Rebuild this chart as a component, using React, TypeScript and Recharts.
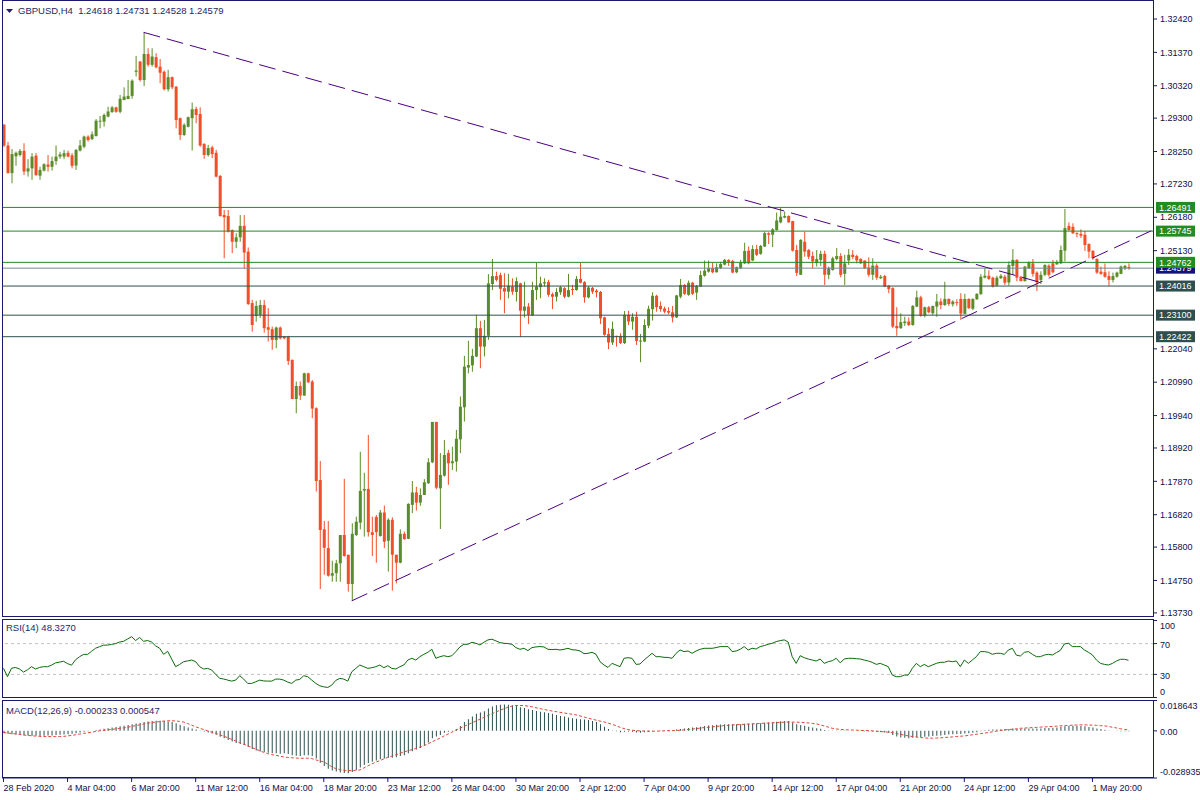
import React from "react"
import { ComposedChart, Bar, Line, XAxis, YAxis, ReferenceLine } from "recharts"

// GBPUSD H4, 28 Feb 2020 12:00 -> 5 May 2020 08:00, one entry per bar
const openP = [
  1.2909, 1.2844, 1.2757, 1.2810, 1.2814, 1.2827, 1.2762, 1.2772, 1.2812, 1.2749,
  1.2765, 1.2784, 1.2777, 1.2795, 1.2809, 1.2809, 1.2821, 1.2813, 1.2781, 1.2828,
  1.2840, 1.2872, 1.2864, 1.2874, 1.2919, 1.2919, 1.2935, 1.2949, 1.2964, 1.2950,
  1.2987, 1.2990, 1.3000, 1.3076, 1.3108, 1.3050, 1.3132, 1.3098, 1.3122, 1.3092,
  1.3076, 1.3021, 1.3059, 1.3029, 1.2930, 1.2877, 1.2903, 1.2930, 1.2959, 1.2943,
  1.2849, 1.2814, 1.2838, 1.2821, 1.2748, 1.2625, 1.2622, 1.2578, 1.2541, 1.2555,
  1.2591, 1.2510, 1.2348, 1.2308, 1.2311, 1.2342, 1.2272, 1.2266, 1.2232, 1.2271,
  1.2242, 1.2242, 1.2169, 1.2046, 1.2087, 1.2057, 1.2127, 1.2101, 1.2017, 1.1791,
  1.1636, 1.1577, 1.1490, 1.1498, 1.1529, 1.1618, 1.1556, 1.1464, 1.1618, 1.1657,
  1.1758, 1.1763, 1.1627, 1.1675, 1.1615, 1.1689, 1.1600, 1.1666, 1.1556, 1.1531,
  1.1622, 1.1606, 1.1713, 1.1752, 1.1720, 1.1744, 1.1781, 1.1847, 1.1974, 1.1765,
  1.1805, 1.1876, 1.1844, 1.1849, 1.1919, 1.2020, 1.2145, 1.2152, 1.2180, 1.2269,
  1.2211, 1.2245, 1.2408, 1.2433, 1.2436, 1.2395, 1.2384, 1.2400, 1.2383, 1.2410,
  1.2324, 1.2337, 1.2309, 1.2389, 1.2398, 1.2410, 1.2414, 1.2376, 1.2368, 1.2382,
  1.2395, 1.2368, 1.2392, 1.2389, 1.2424, 1.2414, 1.2366, 1.2396, 1.2387, 1.2383,
  1.2303, 1.2251, 1.2224, 1.2245, 1.2245, 1.2222, 1.2311, 1.2290, 1.2305, 1.2227,
  1.2227, 1.2277, 1.2329, 1.2371, 1.2339, 1.2331, 1.2323, 1.2319, 1.2303, 1.2368,
  1.2405, 1.2374, 1.2412, 1.2381, 1.2400, 1.2434, 1.2447, 1.2458, 1.2445, 1.2458,
  1.2469, 1.2484, 1.2480, 1.2445, 1.2458, 1.2473, 1.2513, 1.2482, 1.2518, 1.2503,
  1.2526, 1.2568, 1.2563, 1.2578, 1.2602, 1.2617, 1.2622, 1.2606, 1.2515, 1.2437,
  1.2541, 1.2515, 1.2496, 1.2475, 1.2484, 1.2503, 1.2437, 1.2452, 1.2487, 1.2496,
  1.2440, 1.2482, 1.2500, 1.2496, 1.2487, 1.2482, 1.2460, 1.2437, 1.2466, 1.2426,
  1.2433, 1.2402, 1.2395, 1.2276, 1.2269, 1.2285, 1.2290, 1.2279, 1.2337, 1.2366,
  1.2309, 1.2335, 1.2316, 1.2337, 1.2353, 1.2342, 1.2361, 1.2344, 1.2351, 1.2361,
  1.2314, 1.2361, 1.2330, 1.2360, 1.2376, 1.2428, 1.2434, 1.2428, 1.2403, 1.2426,
  1.2431, 1.2413, 1.2465, 1.2484, 1.2431, 1.2417, 1.2458, 1.2473, 1.2444, 1.2421,
  1.2437, 1.2466, 1.2473, 1.2470, 1.2473, 1.2513, 1.2591, 1.2588, 1.2568, 1.2566,
  1.2563, 1.2534, 1.2512, 1.2487, 1.2447, 1.2445, 1.2433, 1.2421, 1.2431, 1.2440,
  1.2458, 1.24618,
]

const highP = [
  1.2912, 1.2855, 1.2833, 1.2825, 1.2833, 1.2851, 1.2801, 1.2820, 1.2820, 1.2777,
  1.2788, 1.2814, 1.2809, 1.2844, 1.2824, 1.2830, 1.2828, 1.2820, 1.2833, 1.2861,
  1.2875, 1.2876, 1.2888, 1.2927, 1.2937, 1.2945, 1.2966, 1.2968, 1.2966, 1.3003,
  1.3027, 1.3050, 1.3052, 1.3126, 1.3110, 1.3200, 1.3150, 1.3150, 1.3134, 1.3116,
  1.3080, 1.3082, 1.3061, 1.3031, 1.2932, 1.2914, 1.2935, 1.2979, 1.2966, 1.2964,
  1.2851, 1.2846, 1.2843, 1.2830, 1.2751, 1.2641, 1.2641, 1.2580, 1.2568, 1.2625,
  1.2625, 1.2523, 1.2358, 1.2355, 1.2358, 1.2358, 1.2332, 1.2274, 1.2274, 1.2274,
  1.2245, 1.2245, 1.2171, 1.2101, 1.2101, 1.2129, 1.2129, 1.2106, 1.2020, 1.1851,
  1.1662, 1.1662, 1.1537, 1.1540, 1.1618, 1.1795, 1.1556, 1.1655, 1.1676, 1.1880,
  1.1814, 1.1933, 1.1676, 1.1681, 1.1697, 1.1711, 1.1671, 1.1674, 1.1556, 1.1636,
  1.1629, 1.1718, 1.1788, 1.1770, 1.1765, 1.1794, 1.1860, 1.1974, 1.1974, 1.1876,
  1.1917, 1.1886, 1.1896, 1.1949, 1.2054, 1.2182, 1.2229, 1.2204, 1.2311, 1.2292,
  1.2295, 1.2439, 1.2487, 1.2447, 1.2444, 1.2442, 1.2440, 1.2426, 1.2429, 1.2412,
  1.2415, 1.2348, 1.2415, 1.2475, 1.2431, 1.2426, 1.2421, 1.2381, 1.2395, 1.2402,
  1.2398, 1.2440, 1.2405, 1.2433, 1.2475, 1.2417, 1.2402, 1.2399, 1.2392, 1.2386,
  1.2305, 1.2269, 1.2290, 1.2245, 1.2253, 1.2323, 1.2324, 1.2316, 1.2321, 1.2251,
  1.2297, 1.2340, 1.2382, 1.2374, 1.2353, 1.2337, 1.2335, 1.2339, 1.2374, 1.2424,
  1.2408, 1.2419, 1.2415, 1.2405, 1.2450, 1.2482, 1.2482, 1.2475, 1.2473, 1.2478,
  1.2487, 1.2486, 1.2484, 1.2463, 1.2484, 1.2538, 1.2526, 1.2530, 1.2531, 1.2531,
  1.2573, 1.2571, 1.2584, 1.2633, 1.2648, 1.2636, 1.2624, 1.2607, 1.2531, 1.2549,
  1.2573, 1.2518, 1.2510, 1.2515, 1.2513, 1.2513, 1.2463, 1.2494, 1.2521, 1.2505,
  1.2500, 1.2518, 1.2515, 1.2500, 1.2489, 1.2482, 1.2492, 1.2489, 1.2473, 1.2437,
  1.2437, 1.2405, 1.2398, 1.2335, 1.2316, 1.2305, 1.2303, 1.2342, 1.2387, 1.2371,
  1.2337, 1.2339, 1.2340, 1.2377, 1.2363, 1.2415, 1.2363, 1.2357, 1.2360, 1.2379,
  1.2377, 1.2363, 1.2363, 1.2379, 1.2439, 1.2458, 1.2451, 1.2431, 1.2434, 1.2439,
  1.2437, 1.2479, 1.2518, 1.2486, 1.2433, 1.2465, 1.2479, 1.2487, 1.2448, 1.2448,
  1.2470, 1.2470, 1.2484, 1.2484, 1.2529, 1.2644, 1.2602, 1.2599, 1.2571, 1.2580,
  1.2575, 1.2536, 1.2515, 1.2489, 1.2463, 1.2473, 1.2448, 1.2444, 1.2447, 1.2466,
  1.2468, 1.24731,
]

const lowP = [
  1.2839, 1.2756, 1.2725, 1.2780, 1.2809, 1.2751, 1.2746, 1.2736, 1.2748, 1.2736,
  1.2762, 1.2762, 1.2765, 1.2783, 1.2802, 1.2801, 1.2807, 1.2772, 1.2767, 1.2825,
  1.2835, 1.2856, 1.2861, 1.2872, 1.2898, 1.2903, 1.2933, 1.2947, 1.2947, 1.2945,
  1.2987, 1.2990, 1.2991, 1.3061, 1.3045, 1.3031, 1.3092, 1.3092, 1.3087, 1.3040,
  1.3017, 1.3014, 1.3021, 1.2898, 1.2861, 1.2874, 1.2901, 1.2828, 1.2914, 1.2840,
  1.2802, 1.2809, 1.2804, 1.2744, 1.2620, 1.2489, 1.2570, 1.2505, 1.2521, 1.2541,
  1.2455, 1.2342, 1.2258, 1.2289, 1.2301, 1.2255, 1.2227, 1.2201, 1.2206, 1.2234,
  1.2234, 1.2153, 1.2046, 1.2001, 1.2043, 1.2056, 1.2096, 1.1986, 1.1755, 1.1448,
  1.1493, 1.1487, 1.1471, 1.1471, 1.1471, 1.1550, 1.1440, 1.1411, 1.1615, 1.1636,
  1.1613, 1.1613, 1.1552, 1.1531, 1.1613, 1.1577, 1.1503, 1.1443, 1.1466, 1.1529,
  1.1603, 1.1605, 1.1687, 1.1695, 1.1710, 1.1744, 1.1779, 1.1844, 1.1762, 1.1637,
  1.1802, 1.1776, 1.1823, 1.1818, 1.1876, 1.1975, 1.2127, 1.2132, 1.2178, 1.2143,
  1.2180, 1.2232, 1.2389, 1.2416, 1.2358, 1.2316, 1.2363, 1.2374, 1.2353, 1.2241,
  1.2303, 1.2282, 1.2308, 1.2358, 1.2363, 1.2400, 1.2368, 1.2329, 1.2353, 1.2374,
  1.2363, 1.2366, 1.2374, 1.2387, 1.2410, 1.2349, 1.2363, 1.2377, 1.2366, 1.2282,
  1.2245, 1.2203, 1.2216, 1.2211, 1.2219, 1.2219, 1.2279, 1.2264, 1.2216, 1.2162,
  1.2225, 1.2269, 1.2293, 1.2321, 1.2321, 1.2316, 1.2313, 1.2287, 1.2301, 1.2363,
  1.2374, 1.2371, 1.2374, 1.2358, 1.2400, 1.2431, 1.2444, 1.2442, 1.2444, 1.2455,
  1.2467, 1.2465, 1.2442, 1.2442, 1.2455, 1.2471, 1.2470, 1.2480, 1.2496, 1.2500,
  1.2524, 1.2534, 1.2524, 1.2576, 1.2599, 1.2615, 1.2601, 1.2510, 1.2433, 1.2437,
  1.2494, 1.2486, 1.2458, 1.2463, 1.2465, 1.2405, 1.2423, 1.2450, 1.2482, 1.2429,
  1.2405, 1.2468, 1.2486, 1.2473, 1.2471, 1.2455, 1.2431, 1.2421, 1.2421, 1.2424,
  1.2398, 1.2379, 1.2269, 1.2245, 1.2267, 1.2276, 1.2276, 1.2277, 1.2335, 1.2305,
  1.2303, 1.2316, 1.2311, 1.2305, 1.2329, 1.2339, 1.2339, 1.2337, 1.2339, 1.2295,
  1.2313, 1.2330, 1.2326, 1.2358, 1.2374, 1.2426, 1.2421, 1.2397, 1.2400, 1.2424,
  1.2405, 1.2403, 1.2437, 1.2417, 1.2417, 1.2416, 1.2455, 1.2431, 1.2386, 1.2408,
  1.2433, 1.2431, 1.2442, 1.2468, 1.2471, 1.2479, 1.2575, 1.2565, 1.2555, 1.2553,
  1.2512, 1.2489, 1.2484, 1.2440, 1.2437, 1.2428, 1.2402, 1.2413, 1.2428, 1.2439,
  1.2452, 1.24528,
]

const closeP = [
  1.2844, 1.2757, 1.2817, 1.2821, 1.2827, 1.2762, 1.2772, 1.2809, 1.2751, 1.2767,
  1.2785, 1.2777, 1.2795, 1.2809, 1.2816, 1.2820, 1.2809, 1.2780, 1.2830, 1.2844,
  1.2872, 1.2861, 1.2879, 1.2922, 1.2922, 1.2940, 1.2951, 1.2964, 1.2950, 1.2991,
  1.2998, 1.3000, 1.3048, 1.3080, 1.3050, 1.3132, 1.3098, 1.3124, 1.3090, 1.3073,
  1.3021, 1.3059, 1.3027, 1.2924, 1.2877, 1.2909, 1.2933, 1.2958, 1.2940, 1.2844,
  1.2814, 1.2836, 1.2817, 1.2746, 1.2622, 1.2618, 1.2573, 1.2541, 1.2555, 1.2591,
  1.2507, 1.2345, 1.2279, 1.2339, 1.2342, 1.2269, 1.2264, 1.2232, 1.2271, 1.2237,
  1.2237, 1.2166, 1.2046, 1.2087, 1.2057, 1.2127, 1.2099, 1.2016, 1.1788, 1.1634,
  1.1578, 1.1490, 1.1498, 1.1529, 1.1618, 1.1552, 1.1464, 1.1622, 1.1660, 1.1757,
  1.1763, 1.1627, 1.1618, 1.1627, 1.1689, 1.1597, 1.1666, 1.1556, 1.1531, 1.1622,
  1.1605, 1.1716, 1.1752, 1.1720, 1.1744, 1.1784, 1.1847, 1.1974, 1.1767, 1.1807,
  1.1870, 1.1844, 1.1850, 1.1921, 1.2022, 1.2148, 1.2153, 1.2182, 1.2269, 1.2211,
  1.2245, 1.2410, 1.2433, 1.2421, 1.2393, 1.2384, 1.2402, 1.2384, 1.2417, 1.2324,
  1.2337, 1.2311, 1.2389, 1.2400, 1.2410, 1.2414, 1.2374, 1.2368, 1.2383, 1.2398,
  1.2368, 1.2389, 1.2389, 1.2424, 1.2412, 1.2366, 1.2397, 1.2384, 1.2382, 1.2300,
  1.2248, 1.2224, 1.2267, 1.2242, 1.2222, 1.2311, 1.2290, 1.2305, 1.2229, 1.2230,
  1.2279, 1.2330, 1.2371, 1.2335, 1.2329, 1.2321, 1.2318, 1.2303, 1.2372, 1.2405,
  1.2377, 1.2412, 1.2377, 1.2402, 1.2436, 1.2450, 1.2458, 1.2445, 1.2461, 1.2471,
  1.2484, 1.2478, 1.2444, 1.2461, 1.2475, 1.2512, 1.2473, 1.2518, 1.2500, 1.2528,
  1.2568, 1.2563, 1.2580, 1.2608, 1.2620, 1.2622, 1.2602, 1.2513, 1.2443, 1.2547,
  1.2510, 1.2494, 1.2479, 1.2487, 1.2503, 1.2437, 1.2458, 1.2489, 1.2496, 1.2437,
  1.2473, 1.2500, 1.2493, 1.2482, 1.2473, 1.2458, 1.2437, 1.2466, 1.2428, 1.2431,
  1.2400, 1.2392, 1.2274, 1.2269, 1.2288, 1.2290, 1.2279, 1.2339, 1.2366, 1.2309,
  1.2335, 1.2319, 1.2339, 1.2353, 1.2342, 1.2361, 1.2345, 1.2353, 1.2349, 1.2315,
  1.2361, 1.2332, 1.2361, 1.2377, 1.2431, 1.2434, 1.2424, 1.2400, 1.2428, 1.2434,
  1.2412, 1.2468, 1.2484, 1.2428, 1.2417, 1.2463, 1.2477, 1.2440, 1.2413, 1.2437,
  1.2468, 1.2437, 1.2445, 1.2477, 1.2515, 1.2584, 1.2578, 1.2568, 1.2565, 1.2560,
  1.2531, 1.2510, 1.2489, 1.2444, 1.2440, 1.2431, 1.2421, 1.2433, 1.2444, 1.2463,
  1.2465, 1.24579,
]

const rsi14 = [
  38, 27, 38, 39, 37, 33, 36, 40, 37, 39,
  40, 40, 42, 45, 46, 47, 44, 42, 49, 53,
  56, 56, 60, 64, 66, 68, 68, 69, 70, 72,
  73, 76, 79, 74, 78, 73, 74, 72, 67, 64,
  56, 60, 50, 40, 43, 46.5, 47.5, 48.7, 46.5, 40,
  37, 37.8, 35.7, 30, 25, 24, 22.6, 21.3, 22.6, 28.3,
  23.9, 18.3, 18.3, 20.4, 22.6, 21.5, 21.3, 21.3, 23.9, 23.9,
  22.6, 20, 18.3, 22.6, 23.5, 28.3, 27, 22.6, 18.3, 15.2,
  13.9, 13, 16.1, 22.2, 24.8, 23.9, 21.3, 33.5, 37.8, 42.2,
  40, 37.8, 38.7, 40, 42.2, 38.7, 41.3, 37.8, 37, 40,
  42.2, 48.7, 50.9, 48.7, 53, 56.1, 58.7, 62.6, 50.9, 53,
  54.3, 53, 54.3, 59.6, 65.7, 69.1, 69.1, 71.7, 70.4, 68.3,
  71.7, 74.8, 75.7, 73.5, 71.3, 70.4, 70, 69.1, 64.8, 62.6,
  63.9, 60.9, 64.8, 65.7, 66.1, 65.7, 62.6, 62.2, 62.6, 61.7,
  62.6, 63.9, 62, 61.7, 60.4, 56.9, 57.4, 58.7, 56.1, 46.5,
  42.2, 39.1, 44.3, 42.2, 40, 50.9, 51.7, 50.9, 43, 43.5,
  48.7, 53, 57.4, 53, 53, 52.2, 52, 50.9, 57.4, 61.7,
  59.6, 60.4, 57.4, 60.4, 62.6, 63.9, 63.9, 63.9, 64.8, 66.1,
  66.1, 66.1, 59.6, 60.4, 62.6, 66.1, 61.7, 63.9, 63, 66.1,
  67.4, 69.1, 70.4, 72.6, 73.9, 74.8, 72, 53, 44.3, 54.3,
  51.7, 50, 48.7, 47.4, 50, 44.3, 46.5, 47.8, 50.9, 45,
  50, 50.9, 50.9, 50.4, 50, 48.7, 47.4, 45.7, 43, 44.3,
  42.2, 40, 29.1, 27, 27, 29.1, 29.1, 37.8, 44.3, 40,
  43, 40, 42.2, 44.3, 45.7, 45.7, 47.4, 46.5, 47.4, 40,
  48.7, 44.3, 48.7, 53, 59.6, 59.6, 58.7, 56.1, 57.4, 57.4,
  56, 61.7, 63.9, 55, 53.9, 58.7, 59.6, 56.1, 53, 53,
  55.2, 56.1, 55.2, 58.3, 61.3, 69.6, 70.4, 66.1, 66.1, 66.1,
  61.7, 58.7, 55.2, 48.7, 44.3, 43, 42.2, 44.3, 47.4, 49.6,
  49.6, 48.327,
]

const macdMain = [
  -0.0015, -0.0018, -0.002, -0.0022, -0.0024, -0.0027, -0.0028, -0.003, -0.003, -0.0031,
  -0.003, -0.0029, -0.0028, -0.0026, -0.0024, -0.0022, -0.002, -0.0018, -0.0014, -0.001,
  -0.0006, -0.0003, 0.0001, 0.0005, 0.0009, 0.0013, 0.0016, 0.002, 0.0024, 0.0028,
  0.0032, 0.0036, 0.004, 0.0045, 0.0049, 0.0054, 0.0057, 0.006, 0.0062, 0.0062,
  0.006, 0.0058, 0.0055, 0.0047, 0.0038, 0.0028, 0.002, 0.0014, 0.0008, 0.0002,
  -0.0004, -0.001, -0.0016, -0.0024, -0.0036, -0.0046, -0.0056, -0.0066, -0.0074, -0.008,
  -0.0086, -0.0098, -0.0112, -0.012, -0.0126, -0.013, -0.0134, -0.0138, -0.0138, -0.014,
  -0.0138, -0.0142, -0.015, -0.0152, -0.0154, -0.015, -0.015, -0.0154, -0.017, -0.0195,
  -0.0215, -0.0232, -0.0244, -0.025, -0.0255, -0.0258, -0.026, -0.0252, -0.024, -0.0225,
  -0.021, -0.0198, -0.019, -0.0182, -0.0175, -0.017, -0.0165, -0.0165, -0.0162, -0.0155,
  -0.015, -0.0138, -0.0125, -0.0115, -0.0105, -0.009, -0.0072, -0.0045, -0.0035, -0.0025,
  -0.0012, -0.0005, 0.0002, 0.0012, 0.003, 0.0055, 0.0072, 0.0088, 0.0105, 0.0112,
  0.012, 0.0138, 0.015, 0.0158, 0.016, 0.0162, 0.016, 0.0158, 0.0152, 0.0145,
  0.014, 0.0132, 0.0128, 0.0122, 0.0118, 0.0115, 0.011, 0.0105, 0.0098, 0.0092,
  0.0088, 0.0082, 0.0078, 0.0075, 0.0072, 0.007, 0.0066, 0.006, 0.0055, 0.004,
  0.0025, 0.0012, 0.0003, -0.0003, -0.0008, -0.0006, -0.0004, -0.0006, -0.001, -0.0011,
  -0.0008, -0.0006, -0.0002, 0, 0.0002, 0.0003, 0.0004, 0.0004, 0.0008, 0.0012,
  0.0014, 0.0017, 0.002, 0.0022, 0.0026, 0.003, 0.0033, 0.0035, 0.0037, 0.0039,
  0.0041, 0.0041, 0.004, 0.004, 0.0041, 0.0044, 0.0043, 0.0045, 0.0045, 0.0047,
  0.005, 0.0051, 0.0053, 0.0056, 0.0059, 0.006, 0.006, 0.0052, 0.004, 0.0036,
  0.0031, 0.0026, 0.002, 0.0016, 0.0013, 0.0006, 0.0003, 0.0002, 0.0002, -0.0001,
  -0.0001, 0.0001, 0.0001, 0, -0.0001, -0.0002, -0.0004, -0.0004, -0.0006, -0.0007,
  -0.001, -0.0013, -0.0025, -0.0035, -0.004, -0.0043, -0.0045, -0.0042, -0.0038, -0.0038,
  -0.0036, -0.0034, -0.0032, -0.003, -0.0028, -0.0025, -0.0023, -0.0021, -0.0019, -0.0019,
  -0.0016, -0.0014, -0.0011, -0.0008, -0.0002, 0.0004, 0.0007, 0.0008, 0.0009, 0.001,
  0.0011, 0.0012, 0.0014, 0.0013, 0.0013, 0.0014, 0.0015, 0.0015, 0.0014, 0.0015,
  0.0017, 0.0018, 0.0019, 0.0021, 0.0025, 0.0029, 0.003, 0.0031, 0.0031, 0.003,
  0.0028, 0.0024, 0.002, 0.0015, 0.0011, 0.0007, 0.0003, 0.0001, -0.0001, -0.0002,
  -0.0002, -0.000233,
]

const macdSignal = [
  -0.001, -0.0013, -0.0016, -0.0019, -0.0022, -0.0025, -0.0028, -0.003, -0.0032, -0.0034,
  -0.0035, -0.0035, -0.0035, -0.0035, -0.0035, -0.0034, -0.0031, -0.0028, -0.0024, -0.002,
  -0.0016, -0.0012, -0.0008, -0.0004, 0, 0.0003, 0.0006, 0.0009, 0.0012, 0.0015,
  0.0018, 0.0022, 0.0027, 0.0032, 0.0037, 0.0042, 0.0047, 0.0051, 0.0054, 0.0057,
  0.006, 0.0062, 0.0062, 0.0061, 0.0058, 0.0054, 0.0045, 0.0035, 0.0025, 0.0016,
  0.0008, 0, -0.0008, -0.0015, -0.0024, -0.0033, -0.0042, -0.0052, -0.0062, -0.0072,
  -0.0082, -0.0092, -0.0102, -0.0112, -0.0122, -0.0132, -0.014, -0.0146, -0.015, -0.0155,
  -0.016, -0.0163, -0.0165, -0.0167, -0.0168, -0.0168, -0.0168, -0.017, -0.0178, -0.0185,
  -0.019, -0.0205, -0.022, -0.0232, -0.0238, -0.0242, -0.0244, -0.0244, -0.0242, -0.024,
  -0.0228, -0.0215, -0.0203, -0.0192, -0.0183, -0.0172, -0.0162, -0.0155, -0.0147, -0.0138,
  -0.013, -0.0122, -0.0115, -0.0108, -0.01, -0.0092, -0.008, -0.0068, -0.0056, -0.0045,
  -0.0032, -0.002, -0.0008, 0.0005, 0.0016, 0.0027, 0.0038, 0.0049, 0.006, 0.0071,
  0.0083, 0.0094, 0.0105, 0.0116, 0.0126, 0.0136, 0.0145, 0.0152, 0.0156, 0.0156,
  0.0155, 0.0152, 0.0148, 0.0142, 0.0137, 0.0131, 0.0127, 0.0122, 0.0118, 0.0114,
  0.011, 0.0106, 0.0102, 0.0098, 0.0092, 0.0085, 0.0078, 0.0072, 0.0066, 0.006,
  0.0055, 0.0048, 0.004, 0.0032, 0.0022, 0.0014, 0.0008, 0.0004, 0.0001, 0,
  -0.0001, -0.0002, -0.0002, -0.0002, -0.0001, 0, 0.0001, 0.0001, 0.0002, 0.0004,
  0.0006, 0.0008, 0.0011, 0.0014, 0.0017, 0.002, 0.0022, 0.0025, 0.0027, 0.003,
  0.0032, 0.0034, 0.0036, 0.0038, 0.0039, 0.004, 0.0042, 0.0043, 0.0044, 0.0046,
  0.0047, 0.0048, 0.005, 0.0051, 0.0052, 0.0053, 0.0054, 0.0054, 0.0053, 0.0053,
  0.0051, 0.0049, 0.0046, 0.0043, 0.0037, 0.003, 0.0023, 0.0016, 0.0012, 0.0009,
  0.0007, 0.0006, 0.0005, 0.0004, 0.0003, 0.0002, 0.0002, 0, -0.0002, -0.0004,
  -0.0006, -0.0008, -0.001, -0.0016, -0.0021, -0.0026, -0.0031, -0.0035, -0.0038, -0.0041,
  -0.0043, -0.0045, -0.0045, -0.0044, -0.0043, -0.0041, -0.0039, -0.0037, -0.0035, -0.0033,
  -0.0031, -0.0028, -0.0024, -0.0021, -0.0017, -0.0014, -0.001, -0.0006, -0.0002, 0.0002,
  0.0006, 0.0008, 0.001, 0.0012, 0.0016, 0.0017, 0.0019, 0.002, 0.0021, 0.0023,
  0.0024, 0.0026, 0.0027, 0.0029, 0.0031, 0.0032, 0.0033, 0.0035, 0.0036, 0.0037,
  0.0037, 0.0036, 0.0035, 0.0034, 0.0032, 0.0031, 0.0027, 0.0022, 0.0018, 0.0013,
  0.0009, 0.000547,
]

const priceTicks = [
  1.3242, 1.3137, 1.3032, 1.293, 1.2825, 1.2723, 1.2618, 1.2513,
  1.2204, 1.2099, 1.1994, 1.1892, 1.1787, 1.1682, 1.158, 1.1475, 1.1373,
]
const timeLabels = [
  "28 Feb 2020", "4 Mar 04:00", "6 Mar 20:00", "11 Mar 12:00", "16 Mar 04:00",
  "18 Mar 20:00", "23 Mar 12:00", "26 Mar 04:00", "30 Mar 20:00", "2 Apr 12:00",
  "7 Apr 04:00", "9 Apr 20:00", "14 Apr 12:00", "17 Apr 04:00", "21 Apr 20:00",
  "24 Apr 12:00", "29 Apr 04:00", "1 May 20:00",
]
const resistanceLevels = [1.26491, 1.25745, 1.24762]
const supportLevels = [1.24016, 1.231, 1.22422]
const bidPrice = 1.24579
// trend lines: bar index / price pairs
const downTrend = [{ x: 35, y: 1.32 }, { x: 259, y: 1.2413 }]
const upTrend = [{ x: 87, y: 1.1411 }, { x: 287.3, y: 1.2579 }]
const rsiTicks = [0, 30, 70, 100]
const macdTicks = [-0.028935, 0, 0.018643]

const FONT = '"Liberation Sans", Arial, sans-serif'
const FS = 9
const INK = "#10104a"
const NAVY = "#191970"
const UP = "#5B8C2A"
const DOWN = "#F24E28"
const X_DOMAIN = [-0.375, 287.375]
const PRICE_DOMAIN = [1.13632, 1.32987]

const candles = openP.map((o, i) => ({
  i,
  open: o,
  high: highP[i],
  low: lowP[i],
  close: closeP[i],
  range: [lowP[i], highP[i]],
}))
const indicators = rsi14.map((r, i) => ({ i, rsi: r, macd: macdMain[i], signal: macdSignal[i] }))
const timeTicks = timeLabels.map((_, k) => k * 16)

function Candle(props: any) {
  const { x, y, width, height, payload } = props
  if (!payload) return null
  const { open, high, low, close } = payload
  const top = Math.min(y, y + height)
  const h = Math.abs(height)
  const color = close >= open ? UP : DOWN
  const cx = x + width / 2
  const k = high > low ? h / (high - low) : 0
  const bTop = top + (high - Math.max(open, close)) * k
  const bBot = top + (high - Math.min(open, close)) * k
  return (
    <g>
      <line x1={cx} x2={cx} y1={top} y2={top + h} stroke={color} strokeWidth={1} />
      <rect x={cx - 1.5} y={bTop} width={3} height={Math.max(1, bBot - bTop)} fill={color} />
    </g>
  )
}

function levelTag(value: number, bg: string) {
  return (p: any) => {
    const vb = p.viewBox || {}
    const left = vb.x + vb.width + 2
    return (
      <g>
        <rect x={left} y={vb.y - 5.5} width={39} height={11} fill={bg} />
        <text x={left + 3} y={vb.y} dy="0.36em" fontSize={FS} fontFamily={FONT} fill="#fff">
          {value.toFixed(5)}
        </text>
      </g>
    )
  }
}

function EdgeTick({ x, y, payload, lo, hi, fmt }: any) {
  const v = payload.value
  const dy = v === hi ? 5 : v === lo ? -6 : 1
  return (
    <text x={x} y={y + dy} dy="0.36em" fontSize={FS} fontFamily={FONT} fill={INK}>
      {fmt(v)}
    </text>
  )
}

function TimeTick({ x, y, index }: any) {
  return (
    <text x={x} y={y} dy="0.71em" fontSize={FS} fontFamily={FONT} fill={INK}>
      {timeLabels[index]}
    </text>
  )
}

const frame = (top: number, height: number): React.CSSProperties => ({
  position: "absolute",
  left: 2,
  top,
  width: 1152,
  height,
  border: `1px solid ${NAVY}`,
  boxSizing: "border-box",
  pointerEvents: "none",
})

const caption: React.CSSProperties = {
  position: "absolute",
  fontFamily: FONT,
  fontSize: 9.5,
  color: "#1f1f66",
  whiteSpace: "pre",
}

export default function App() {
  return (
    <div style={{ position: "absolute", left: 0, top: 0, width: 1200, height: 800, background: "#fff", overflow: "hidden" }}>
      <div style={{ position: "absolute", left: 0, top: 0 }}>
        <ComposedChart width={1200} height={620} data={candles} margin={{ top: 1, right: 0, bottom: 4, left: 2 }}>
          <XAxis dataKey="i" type="number" domain={X_DOMAIN} allowDataOverflow hide />
          <YAxis
            orientation="right"
            width={46}
            domain={PRICE_DOMAIN}
            allowDataOverflow
            ticks={priceTicks}
            interval={0}
            axisLine={false}
            tickSize={3}
            tickMargin={3}
            tickLine={{ stroke: NAVY }}
            tick={{ fontSize: FS, fontFamily: FONT, fill: INK }}
            tickFormatter={(v: number) => v.toFixed(5)}
          />
          <ReferenceLine y={bidPrice} stroke="#778899" label={levelTag(bidPrice, "#13137a")} />
          {supportLevels.map((v) => (
            <ReferenceLine key={v} y={v} stroke="#2F4F4F" label={levelTag(v, "#2F4F4F")} />
          ))}
          {resistanceLevels.map((v) => (
            <ReferenceLine key={v} y={v} stroke="#228B22" label={levelTag(v, "#228B22")} />
          ))}
          <ReferenceLine segment={downTrend} stroke="#4B0082" strokeDasharray="17 7" />
          <ReferenceLine segment={upTrend} stroke="#4B0082" strokeDasharray="17 7" />
          <Bar dataKey="range" barSize={3} isAnimationActive={false} shape={(p: any) => <Candle {...p} />} />
        </ComposedChart>
      </div>

      <div style={{ position: "absolute", left: 0, top: 620 }}>
        <ComposedChart width={1200} height={78} data={indicators} margin={{ top: 0.5, right: 0, bottom: 0.5, left: 2 }}>
          <XAxis dataKey="i" type="number" domain={X_DOMAIN} allowDataOverflow hide />
          <YAxis
            orientation="right"
            width={46}
            domain={[0, 100]}
            ticks={rsiTicks}
            interval={0}
            axisLine={false}
            tickSize={3}
            tickMargin={3}
            tickLine={{ stroke: NAVY }}
            tick={<EdgeTick lo={0} hi={100} fmt={(v: number) => String(v)} />}
          />
          <ReferenceLine y={70} stroke="#c0c0c0" strokeDasharray="3 3" />
          <ReferenceLine y={30} stroke="#c0c0c0" strokeDasharray="3 3" />
          <Line dataKey="rsi" type="linear" stroke="#0B6B0B" strokeWidth={1} dot={false} isAnimationActive={false} />
        </ComposedChart>
      </div>

      <div style={{ position: "absolute", left: 0, top: 700 }}>
        <ComposedChart width={1200} height={100} data={indicators} margin={{ top: 0.5, right: 0, bottom: 0, left: 2 }}>
          <XAxis
            dataKey="i"
            type="number"
            domain={X_DOMAIN}
            allowDataOverflow
            ticks={timeTicks}
            interval={0}
            height={22}
            axisLine={{ stroke: NAVY }}
            tickSize={4}
            tickMargin={3}
            tickLine={{ stroke: NAVY }}
            tick={<TimeTick />}
          />
          <YAxis
            orientation="right"
            width={46}
            domain={[-0.028935, 0.018643]}
            allowDataOverflow
            ticks={macdTicks}
            interval={0}
            axisLine={false}
            tickSize={3}
            tickMargin={3}
            tickLine={{ stroke: NAVY }}
            tick={<EdgeTick lo={-0.028935} hi={0.018643} fmt={(v: number) => (v === 0 ? "0.00" : v.toFixed(6))} />}
          />
          <Bar dataKey="macd" barSize={1} fill="#2F4F4F" isAnimationActive={false} />
          <Line dataKey="signal" type="linear" stroke="#E2453A" strokeDasharray="3 2" strokeWidth={1} dot={false} isAnimationActive={false} />
        </ComposedChart>
      </div>

      <div style={frame(0, 617)} />
      <div style={frame(619, 79)} />
      <div style={frame(700, 78)} />

      <svg style={{ position: "absolute", left: 6, top: 9 }} width={8} height={6}>
        <polygon points="0,0 7,0 3.5,4" fill="#1f1f66" />
      </svg>
      <div style={{ ...caption, left: 18, top: 5 }}>GBPUSD,H4  1.24618 1.24731 1.24528 1.24579</div>
      <div style={{ ...caption, left: 6, top: 622 }}>RSI(14) 48.3270</div>
      <div style={{ ...caption, left: 6, top: 705 }}>MACD(12,26,9) -0.000233 0.000547</div>
    </div>
  )
}
